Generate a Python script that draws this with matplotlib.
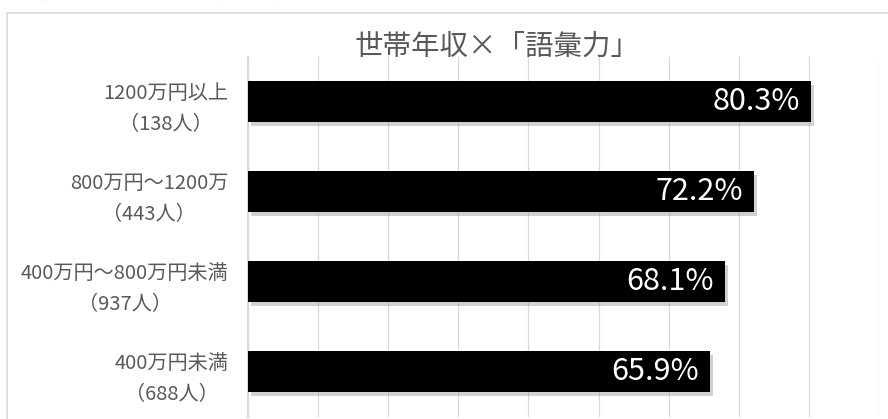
import matplotlib.pyplot as plt
import matplotlib.patheffects as pe
from matplotlib.patches import Rectangle

plt.rcParams['font.family'] = ['Noto Sans CJK JP', 'DejaVu Sans']

categories = ['1200万円以上\n（138人）', '800万円～1200万\n（443人）',
              '400万円～800万円未満\n（937人）', '400万円未満\n（688人）']
values = [80.3, 72.2, 68.1, 65.9]
labels = ['80.3%', '72.2%', '68.1%', '65.9%']

W, H = 888, 419
fig = plt.figure(figsize=(W / 100, H / 100), dpi=100)

# outer chart frame (runs off right and bottom)
fig.add_artist(Rectangle((7 / W, -0.1), 1.0, 1 - 13 / H + 0.1, transform=fig.transFigure,
                         fill=False, edgecolor='#d9d9d9', lw=1.2, clip_on=False))

# cut-off heading above the chart, only its lower edge shows
fig.text(0.0, 1 + 7.5 / H, '【図】世帯年収と「語彙力」の関係', fontsize=14, fontweight='bold',
         color='black', ha='left', va='center')

ax = fig.add_axes([248 / W, (H - 416.5) / H, (879 - 248) / W, 360 / H])

ypos = list(range(len(values)))
bars = ax.barh(ypos, values, height=0.462, color='black', zorder=3)
for b in bars:
    b.set_path_effects([pe.SimplePatchShadow(offset=(2, -3), shadow_rgbFace='#8c8c8c', alpha=0.4),
                        pe.Normal()])

for y, v, t in zip(ypos, values, labels):
    ax.text(v - 1.6, y, t, color='white', fontsize=22, ha='right', va='center', zorder=4)

ax.set_xlim(0, 90)
ax.set_ylim(3.5, -0.5)
ax.set_xticks(range(0, 91, 10))
ax.set_xticklabels([])
ax.tick_params(axis='x', length=0)
ax.grid(axis='x', color='#d9d9d9', lw=0.9, zorder=0)
ax.set_yticks(ypos)
ax.set_yticklabels(categories, color='#595959', fontsize=14.5, linespacing=1.65,
                   multialignment='center')
ax.tick_params(axis='y', length=0, pad=14)
for s in ['top', 'right', 'bottom']:
    ax.spines[s].set_visible(False)
ax.spines['left'].set_color('#d9d9d9')
ax.spines['left'].set_linewidth(1.5)

fig.text(497 / W, 1 - 47 / H, '世帯年収×「語彙力」', fontsize=20.5, color='#595959',
         ha='center', va='center')

fig.savefig('out.png', dpi=100)
